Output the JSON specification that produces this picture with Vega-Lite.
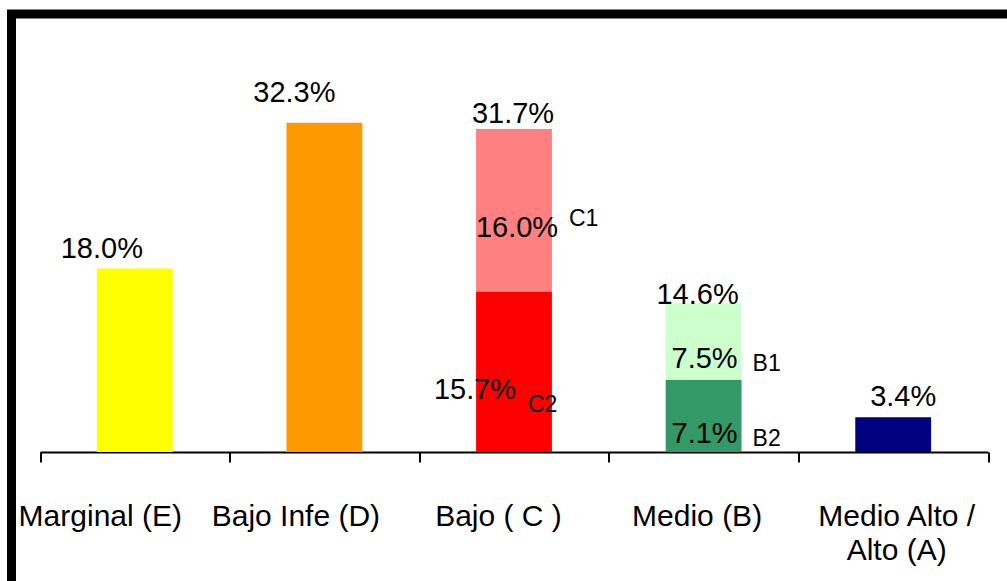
{
  "$schema": "https://vega.github.io/schema/vega-lite/v6.json",
  "autosize": "none",
  "padding": {"left": 11.5, "top": 14, "right": 0, "bottom": 0},
  "width": 1005,
  "height": 600,
  "background": "white",
  "config": {
    "view": {"stroke": "black", "strokeWidth": 9, "fill": "white"},
    "font": "Liberation Sans"
  },
  "data": {
    "values": [
      {"cat": "Marginal (E)", "seg": "E", "ord": 1, "value": 0.180},
      {"cat": "Bajo Infe (D)", "seg": "D", "ord": 1, "value": 0.323},
      {"cat": "Bajo ( C )", "seg": "C2", "ord": 1, "value": 0.157},
      {"cat": "Bajo ( C )", "seg": "C1", "ord": 2, "value": 0.160},
      {"cat": "Medio (B)", "seg": "B2", "ord": 1, "value": 0.071},
      {"cat": "Medio (B)", "seg": "B1", "ord": 2, "value": 0.075},
      {"cat": "Medio Alto / Alto (A)", "seg": "A", "ord": 1, "value": 0.034}
    ]
  },
  "encoding": {
    "x": {
      "field": "cat",
      "type": "nominal",
      "sort": null,
      "scale": {"range": [28.5, 976.5], "paddingInner": 0, "paddingOuter": 0},
      "axis": {
        "title": null,
        "orient": "bottom",
        "offset": -162,
        "tickBand": "extent",
        "domainColor": "black",
        "domainWidth": 2,
        "tickColor": "black",
        "tickWidth": 2,
        "tickSize": 10,
        "labelAngle": 0,
        "labelFont": "Liberation Sans",
        "labelFontSize": 30,
        "labelColor": "black",
        "labelPadding": 39,
        "labelBaseline": "top",
        "labelLineHeight": 34,
        "labelExpr": "datum.value == 'Medio Alto / Alto (A)' ? ['Medio Alto /', 'Alto (A)'] : datum.value",
        "labelOffset": {
          "condition": [
            {"test": "datum.value == 'Marginal (E)'", "value": -35},
            {"test": "datum.value == 'Bajo Infe (D)'", "value": -29},
            {"test": "datum.value == 'Bajo ( C )'", "value": -16},
            {"test": "datum.value == 'Medio (B)'", "value": -7}
          ],
          "value": 3
        },
        "labelOverlap": false,
        "labelLimit": 0
      }
    }
  },
  "layer": [
    {
      "mark": {"type": "bar", "width": {"band": 0.4}},
      "encoding": {
        "y": {
          "field": "value",
          "type": "quantitative",
          "stack": "zero",
          "scale": {"domain": [-0.159, 0.4298], "nice": false, "zero": false},
          "axis": null
        },
        "color": {
          "field": "seg",
          "type": "nominal",
          "scale": {
            "domain": ["E", "D", "C2", "C1", "B2", "B1", "A"],
            "range": ["#FFFF00", "#FF9900", "#FF0000", "#FF8080", "#339966", "#CCFFCC", "#000080"]
          },
          "legend": null
        },
        "order": {"field": "ord", "type": "quantitative"}
      }
    },
    {
      "transform": [
        {"aggregate": [{"op": "sum", "field": "value", "as": "total"}], "groupby": ["cat"]}
      ],
      "mark": {
        "type": "text",
        "fontSize": 29,
        "baseline": "middle",
        "align": "center",
        "color": "black",
        "dx": {"expr": "datum.cat == 'Marginal (E)' ? -33 : datum.cat == 'Bajo Infe (D)' ? -30 : datum.cat == 'Bajo ( C )' ? -1 : datum.cat == 'Medio (B)' ? -6 : 10"},
        "dy": {"expr": "datum.cat == 'Marginal (E)' ? -20 : datum.cat == 'Bajo Infe (D)' ? -30 : datum.cat == 'Bajo ( C )' ? -15 : datum.cat == 'Medio (B)' ? -8 : -20"}
      },
      "encoding": {
        "y": {"field": "total", "type": "quantitative"},
        "text": {"field": "total", "type": "quantitative", "format": ".1%"}
      }
    },
    {
      "transform": [
        {"filter": "indexof(['C1','C2','B1','B2'], datum.seg) >= 0"},
        {"stack": "value", "groupby": ["cat"], "sort": [{"field": "ord"}], "as": ["v0", "v1"]},
        {"fold": ["v0", "v1"], "as": ["edge", "ev"]},
        {"aggregate": [{"op": "mean", "field": "ev", "as": "mid"}], "groupby": ["cat", "seg", "value"]}
      ],
      "mark": {
        "type": "text",
        "fontSize": 29,
        "baseline": "middle",
        "align": "center",
        "color": "black",
        "dy": 18,
        "dx": {"expr": "datum.seg == 'C2' ? -39 : datum.seg == 'C1' ? 3 : 1"}
      },
      "encoding": {
        "y": {"field": "mid", "type": "quantitative"},
        "text": {"field": "value", "type": "quantitative", "format": ".1%"}
      }
    },
    {
      "transform": [
        {"filter": "indexof(['C1','C2','B1','B2'], datum.seg) >= 0"},
        {"stack": "value", "groupby": ["cat"], "sort": [{"field": "ord"}], "as": ["v0", "v1"]},
        {"fold": ["v0", "v1"], "as": ["edge", "ev"]},
        {"aggregate": [{"op": "mean", "field": "ev", "as": "mid"}], "groupby": ["cat", "seg", "value"]}
      ],
      "mark": {
        "type": "text",
        "fontSize": 23,
        "baseline": "middle",
        "align": "left",
        "color": "black",
        "dx": {"expr": "datum.seg == 'C1' ? 55 : datum.seg == 'C2' ? 14 : 49"},
        "dy": {"expr": "datum.seg == 'C1' ? 9 : datum.seg == 'C2' ? 33 : 23"}
      },
      "encoding": {
        "y": {"field": "mid", "type": "quantitative"},
        "text": {"field": "seg", "type": "nominal"}
      }
    }
  ]
}
